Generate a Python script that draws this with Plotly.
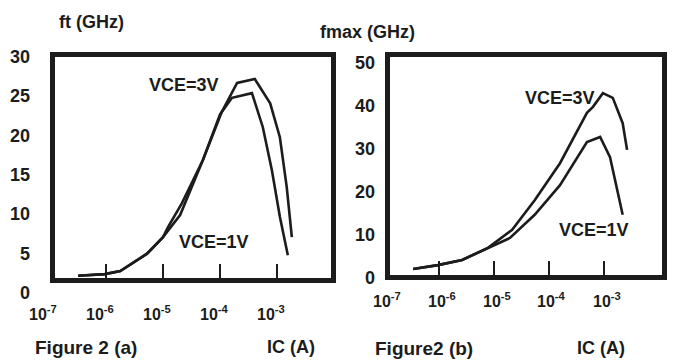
import plotly.graph_objects as go

# ---- data (log10 of IC in A, values in GHz) ----
ft_3v_logic = [-6.49, -6.02, -5.75, -5.28, -5.00, -4.70, -4.30, -3.97, -3.70, -3.39, -3.12, -2.95, -2.83, -2.74]
ft_3v_val = [2.2, 2.4, 2.8, 5.0, 7.1, 9.9, 16.9, 23.0, 26.7, 27.2, 24.1, 19.8, 13.5, 7.1]
ft_1v_logic = [-6.49, -6.02, -5.75, -5.28, -5.00, -4.91, -4.67, -4.30, -4.00, -3.79, -3.44, -3.25, -3.09, -2.95, -2.81]
ft_1v_val = [2.2, 2.4, 2.8, 5.0, 7.1, 8.4, 11.4, 16.9, 22.7, 24.8, 25.4, 21.1, 15.6, 9.7, 4.8]

fmax_3v_logic = [-6.47, -6.02, -5.58, -5.11, -4.67, -4.26, -3.80, -3.31, -3.20, -3.02, -2.84, -2.66, -2.58]
fmax_3v_val = [2.1, 3.0, 4.2, 7.0, 11.2, 18.1, 26.7, 38.4, 39.8, 43.0, 41.9, 36.0, 29.8]
fmax_1v_logic = [-6.47, -6.02, -5.58, -5.11, -4.71, -4.26, -3.80, -3.31, -3.07, -2.89, -2.80, -2.66]
fmax_1v_val = [2.1, 3.0, 4.2, 7.0, 9.3, 14.7, 21.6, 31.6, 32.8, 28.1, 22.8, 14.7]

x_tick_exps = [-7, -6, -5, -4, -3]
ft_ticks = [0, 5, 10, 15, 20, 25, 30]
fmax_ticks = [0, 10, 20, 30, 40, 50]

INK = "#1c1c1c"
FONT = "Liberation Sans, Arial, sans-serif"
W, H = 673, 360


def px(x):
    return x / W


def py(y):
    return 1 - y / H


# axis geometry (domains in paper units, ranges in axis units)
X1_DOM, X1_RNG = [px(55), px(331)], [-6.895, -2.053]
Y1_DOM, Y1_RNG = [py(278), py(57)], [1.91, 29.99]
X2_DOM, X2_RNG = [px(390), px(662)], [-6.891, -1.945]
Y2_DOM, Y2_RNG = [py(275), py(57)], [0.70, 51.4]


def to_paper(v, dom, rng):
    return dom[0] + (v - rng[0]) / (rng[1] - rng[0]) * (dom[1] - dom[0])


fig = go.Figure()


def curve(lx, v, xa, ya):
    fig.add_trace(go.Scatter(
        x=[10 ** e for e in lx], y=v, mode="lines",
        line=dict(color=INK, width=2.6), xaxis=xa, yaxis=ya,
        showlegend=False, hoverinfo="skip", cliponaxis=False))


curve(ft_3v_logic, ft_3v_val, "x", "y")
curve(ft_1v_logic, ft_1v_val, "x", "y")
curve(fmax_3v_logic, fmax_3v_val, "x2", "y2")
curve(fmax_1v_logic, fmax_1v_val, "x2", "y2")

frame = dict(showline=True, linewidth=5, linecolor=INK, mirror=True,
             showgrid=False, zeroline=False, showticklabels=False)

fig.update_layout(
    width=W, height=H,
    margin=dict(l=0, r=0, t=0, b=0),
    paper_bgcolor="white", plot_bgcolor="white",
    font=dict(family=FONT, color=INK),
    xaxis=dict(type="log", domain=X1_DOM, range=X1_RNG,
               anchor="y", ticks="inside", ticklen=14, tickwidth=2, tickcolor=INK,
               tickvals=[10 ** e for e in x_tick_exps[1:]], **frame),
    yaxis=dict(domain=Y1_DOM, range=Y1_RNG, anchor="x", ticks="", **frame),
    xaxis2=dict(type="log", domain=X2_DOM, range=X2_RNG,
                anchor="y2", ticks="inside", ticklen=14, tickwidth=2, tickcolor=INK,
                tickvals=[10 ** e for e in x_tick_exps[1:]], **frame),
    yaxis2=dict(domain=Y2_DOM, range=Y2_RNG, anchor="x2", ticks="", **frame),
)

ann = []


def bold(s):
    return dict(size=s, family=FONT, color=INK, weight="bold")


# y tick labels (positions from the axis scales)
for v in ft_ticks:
    ann.append(dict(xref="paper", yref="paper", x=px(32), y=to_paper(v, Y1_DOM, Y1_RNG),
                    text=str(v), xanchor="right", yanchor="middle", showarrow=False,
                    font=bold(18)))
for v in fmax_ticks:
    ann.append(dict(xref="paper", yref="paper", x=px(377), y=to_paper(v, Y2_DOM, Y2_RNG),
                    text=str(v), xanchor="right", yanchor="middle", showarrow=False,
                    font=bold(18)))
# x tick labels
for e in x_tick_exps:
    ann.append(dict(xref="paper", yref="paper", x=to_paper(e, X1_DOM, X1_RNG) - 6 / W,
                    y=py(313), text=f"10<sup>{e}</sup>",
                    xanchor="center", yanchor="middle", showarrow=False, font=bold(16)))
    ann.append(dict(xref="paper", yref="paper", x=to_paper(e, X2_DOM, X2_RNG) + 3 / W,
                    y=py(300), text=f"10<sup>{e}</sup>",
                    xanchor="center", yanchor="middle", showarrow=False, font=bold(16)))


def label(text, x, y, anchor="left", size=18):
    ann.append(dict(xref="paper", yref="paper", x=px(x), y=py(y), text=text,
                    xanchor=anchor, yanchor="middle", showarrow=False,
                    font=bold(size)))


label("ft (GHz)", 57, 22)
label("fmax (GHz)", 318, 32)
label("Figure 2 (a)", 33, 347, size=19)
label("IC (A)", 265, 347)
label("Figure2 (b)", 373, 348, size=19)
label("IC (A)", 575, 348)
label("VCE=3V", 147, 85)
label("VCE=1V", 177, 242)
label("VCE=3V", 523, 98)
label("VCE=1V", 557, 230)

fig.update_layout(annotations=ann)
fig.write_html("out.html", config={"displayModeBar": False},
               post_script="document.body.style.margin='0';")
